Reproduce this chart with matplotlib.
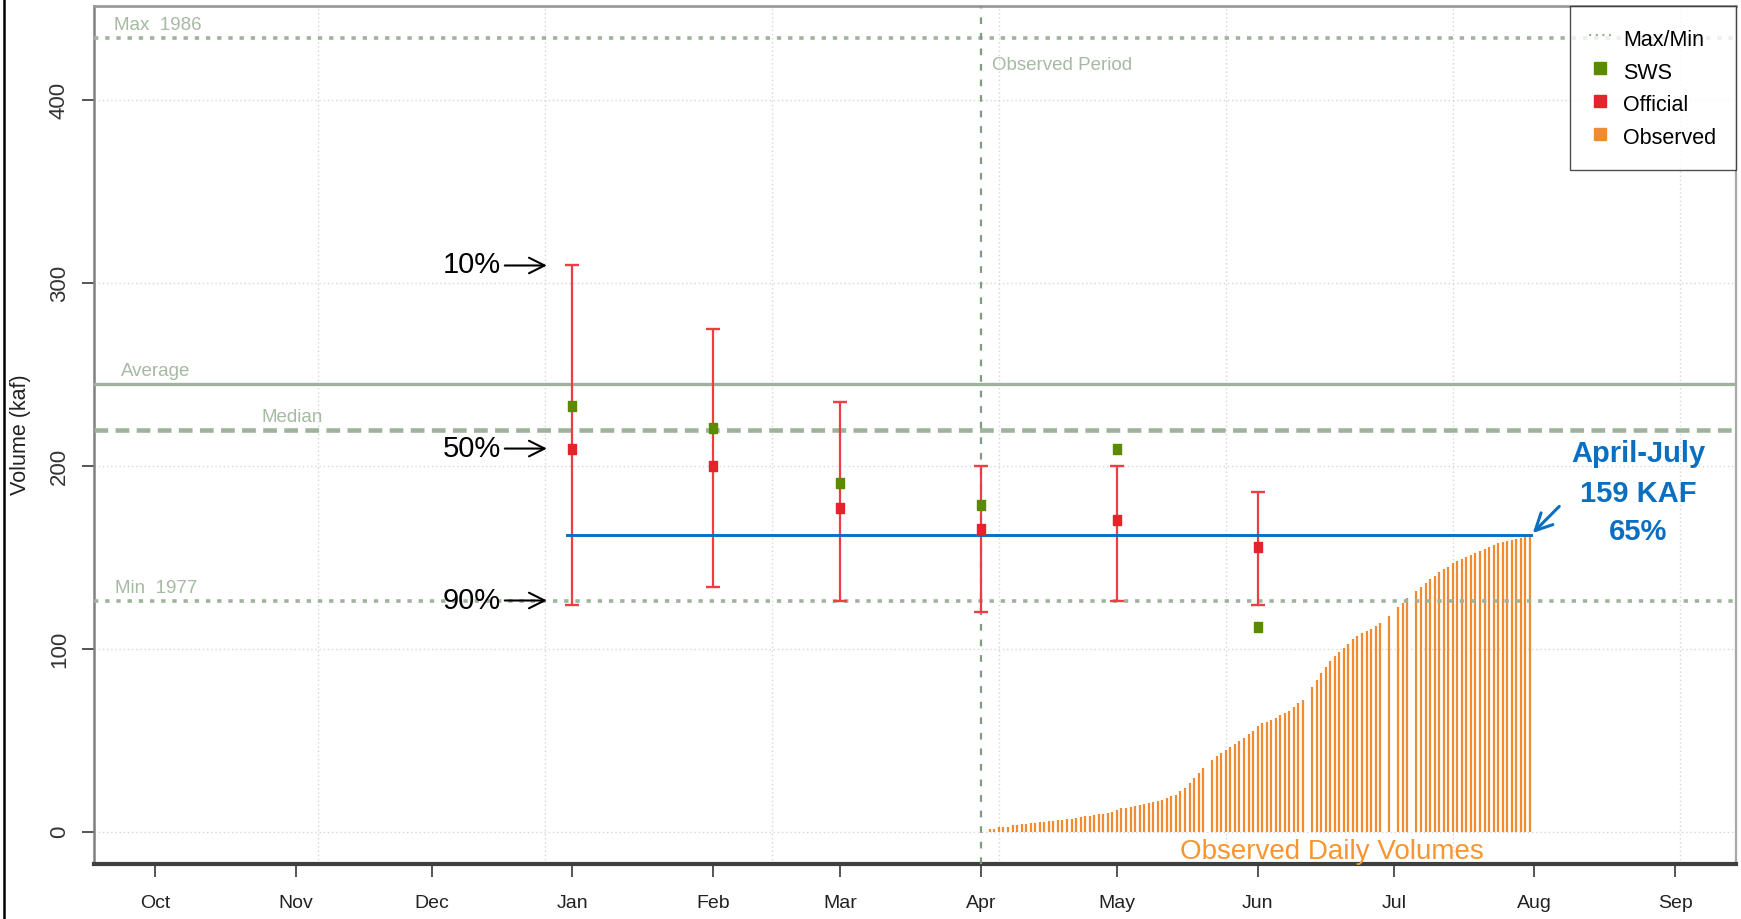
import matplotlib
matplotlib.use('Agg')
import matplotlib.pyplot as plt
import matplotlib.dates as mdates
from matplotlib.ticker import MultipleLocator
from matplotlib.lines import Line2D
import numpy as np
import pandas as pd

plt.rcParams['font.family'] = ['Liberation Sans', 'DejaVu Sans']

# forecasts issued on the first of each month (kaf)
forecast_months = ['2013-01-01', '2013-02-01', '2013-03-01', '2013-04-01', '2013-05-01', '2013-06-01']
official = [209.6, 200.0, 177.0, 165.5, 170.5, 155.6]
sws = [232.8, 221.0, 191.0, 178.8, 209.1, 112.3]
p10 = [309.6, 274.8, 234.8, 200.0, 200.0, 186.0]
p90 = [124.1, 134.1, 126.5, 120.3, 126.5, 123.9]

# historical statistics
max_vol, max_year = 434.0, 1986
min_vol, min_year = 126.2, 1977
average = 245.0
median = 220.0

# Apr-Jul observed volume line
apr_jul_volume = 162.4

# observed cumulative daily volumes from Apr 3 (NaN = missing day)
obs_start = '2013-04-03'
obs_volume = [
    1.6, 1.8, 2.7, 2.9, 3.1, 3.8, 4.0, 4.4, 4.5, 4.9, 5.1, 5.6, 5.8, 6.0, 6.2, 6.5,
    6.9, 7.1, 7.5, 7.8, 8.2, 8.7, 9.1, 9.3, 9.8, 10.2, 10.5, 11.1,
    12.4, 13.1, 13.3, 14.0, 14.4, 14.9, 15.3, 16.0, 16.4, 17.1, 17.8, 18.7, 19.6, 20.5,
    22.4, 24.4, 26.7, 29.5, 32.2, 35.1, np.nan,
    39.6, 41.6, 43.3, 45.1, 46.7, 48.4, 50.0, 51.5, 53.5, 55.1,
    58.0, 59.6, 60.4, 61.3, 62.5, 64.0, 65.3, 66.5, 68.2, 70.4, 72.5, np.nan,
    79.5, 83.3, 87.1, 90.5, 93.6, 96.2, 98.2, 100.5, 102.7, 105.3, 107.3, 108.7,
    110.2, 111.3, 112.5, 114.4, np.nan, 118.0,
    np.nan, 123.1, 125.5, 127.8, np.nan,
    131.8, 134.0, 136.0, 138.2, 140.2, 142.2, 143.6, 145.1, 146.9, 148.2, 149.5, 150.5,
    151.6, 152.7, 153.8, 154.9, 156.0, 157.1, 158.0, 158.7, 159.3, 159.8, 160.4, 160.9,
    161.5, 162.0,
]

REF = '#9fb39c'
REF_TXT = '#a6b9a3'
RED = '#e5232a'
GREEN = '#5b8a00'
ORANGE = '#f28a30'
BLUE = '#0b6fc1'


def d(s, days=0.0):
    return mdates.date2num(pd.Timestamp(s)) + days


def main():
    fig = plt.figure(figsize=(17.41, 9.19), dpi=100)
    ax = fig.add_axes([0.054, 0.0598, 0.9431, 0.9337])

    fdates = pd.to_datetime(forecast_months)
    off = np.array(official)
    obs = np.array(obs_volume)
    odates = pd.date_range(obs_start, periods=len(obs), freq='D')
    ok = ~np.isnan(obs)

    # grid
    ax.xaxis.set_minor_locator(MultipleLocator(50))
    ax.grid(which='minor', axis='x', color='#d6d6d6', ls=(0, (1, 2)), lw=1)
    ax.grid(which='major', axis='y', color='#d6d6d6', ls=(0, (1, 2)), lw=1)
    ax.set_axisbelow(True)

    # observed daily volumes
    ax.vlines(odates[ok], 0, obs[ok], color=ORANGE, lw=1.6, zorder=2)

    # reference lines
    ax.axhline(max_vol, color=REF, lw=2.6, ls=(0, (1.2, 1.9)), zorder=3)
    ax.axhline(min_vol, color=REF, lw=2.6, ls=(0, (1.2, 1.9)), zorder=3)
    ax.axhline(average, color=REF, lw=2.4, zorder=3)
    ax.axhline(median, color=REF, lw=3.3, ls=(0, (3, 1.6)), zorder=3)
    ax.axvline(pd.Timestamp('2013-04-01'), color='#7f9b82', lw=1.6, ls=(0, (3, 4)), zorder=3)

    ax.text(d('2012-10-01', -9.1), max_vol + 2, f'Max  {max_year}', color=REF_TXT, fontsize=13.5, va='bottom')
    ax.text(d('2012-10-01', -8.7), min_vol + 2.5, f'Min  {min_year}', color=REF_TXT, fontsize=13.5, va='bottom')
    ax.text(d('2012-10-01', -7.4), average + 2, 'Average', color=REF_TXT, fontsize=13.5, va='bottom')
    ax.text(d('2012-10-01', 23.6), median + 2, 'Median', color=REF_TXT, fontsize=13.5, va='bottom')
    ax.text(d('2013-04-01', 2.4), 416.4, 'Observed Period', color=REF_TXT, fontsize=13.5, va='baseline')

    # forecast ranges
    ax.errorbar(fdates, off, yerr=[off - np.array(p90), np.array(p10) - off], fmt='none',
                ecolor='#ee3d44', elinewidth=1.6, capsize=5, capthick=1.7, zorder=4)
    ax.plot([d('2012-12-31', -0.25), d('2013-07-31', 0.3)], [apr_jul_volume, apr_jul_volume],
            color=BLUE, lw=2.1, zorder=5)
    rect = [(-0.8, -1), (0.8, -1), (0.8, 1), (-0.8, 1), (-0.8, -1)]
    ax.plot(fdates, official, ls='none', marker=rect, ms=7.5, color=RED, zorder=6)
    ax.plot(fdates, sws, ls='none', marker=rect, ms=7.5, color=GREEN, zorder=6)

    # percentile callouts
    for lab, val in [('10%', p10[0]), ('50%', official[0]), ('90%', p90[0] + 2.5)]:
        ax.annotate('', xy=(d('2012-12-27'), val), xytext=(d('2012-12-16', 0.5), val),
                    arrowprops=dict(arrowstyle='->', color='black', lw=1.5, mutation_scale=28), zorder=7)
        ax.text(d('2012-12-03', 0.5), val, lab, fontsize=21, va='center', ha='left', zorder=7)

    # Apr-Jul annotation
    ax.annotate('', xy=(d('2013-07-31', 0.2), apr_jul_volume), xytext=(d('2013-08-06', 0.9), 179.1),
                arrowprops=dict(arrowstyle='->', color=BLUE, lw=2.2, mutation_scale=30), zorder=7)
    for txt, yb in [('April-July', 202.4), ('159 KAF', 180.5), ('65%', 159.7)]:
        ax.text(d('2013-08-23', 0.9), yb, txt, color=BLUE, fontsize=21, fontweight='bold',
                ha='center', va='baseline', zorder=7)

    ax.text(d('2013-06-17', 0.3), -14.4, 'Observed Daily Volumes', color='#f7952f', fontsize=20,
            ha='center', va='baseline', zorder=7)

    # axes
    ax.set_xlim(d('2012-10-01', -13.4), d('2013-09-01', 13.4))
    ax.set_ylim(-17.36, 451.36)
    ax.xaxis.set_major_locator(mdates.MonthLocator())
    ax.xaxis.set_major_formatter(mdates.DateFormatter('%b'))
    ax.set_yticks([0, 100, 200, 300, 400])
    ax.tick_params(axis='x', which='major', length=9.4, width=1.4, color='#555555', pad=13,
                   labelsize=14, labelcolor='#222222')
    ax.tick_params(axis='x', which='minor', length=0)
    ax.tick_params(axis='y', length=8.3, width=1.4, color='#555555', pad=9, labelsize=16,
                   labelcolor='#333333', labelrotation=90)
    for lab in ax.get_yticklabels():
        lab.set_va('center')
    ax.set_ylabel('Volume (kaf)', fontsize=15.5, color='#222222', labelpad=13)

    ax.spines['top'].set_color('#9a9a9a')
    ax.spines['top'].set_linewidth(2.0)
    ax.spines['left'].set_color('#808080')
    ax.spines['left'].set_linewidth(1.8)
    ax.spines['right'].set_color('#a8a8a8')
    ax.spines['right'].set_linewidth(1.6)
    ax.spines['bottom'].set_color('#3f3f3f')
    ax.spines['bottom'].set_linewidth(3.0)

    handles = [
        Line2D([], [], color=REF, lw=1.6, ls=(0, (1, 2))),
        Line2D([], [], ls='none', marker='s', ms=8, color=GREEN),
        Line2D([], [], ls='none', marker='s', ms=8, color=RED),
        Line2D([], [], ls='none', marker='s', ms=8, color=ORANGE),
    ]
    leg = ax.legend(handles, ['Max/Min', 'SWS', 'Official', 'Observed'], loc='upper right',
                    bbox_to_anchor=(1, 1), borderaxespad=0, frameon=True, fontsize=15.5,
                    fancybox=False, edgecolor='#222222', handlelength=1.0, handleheight=1.5,
                    handletextpad=0.6, borderpad=0.9, labelspacing=0.31)
    leg.get_frame().set_linewidth(1.0)
    leg.set_zorder(10)

    fig.add_artist(Line2D([0.0023, 0.0023], [0, 1], transform=fig.transFigure, color='black', lw=1.8))

    fig.savefig('out.png', dpi=100)


if __name__ == '__main__':
    main()
